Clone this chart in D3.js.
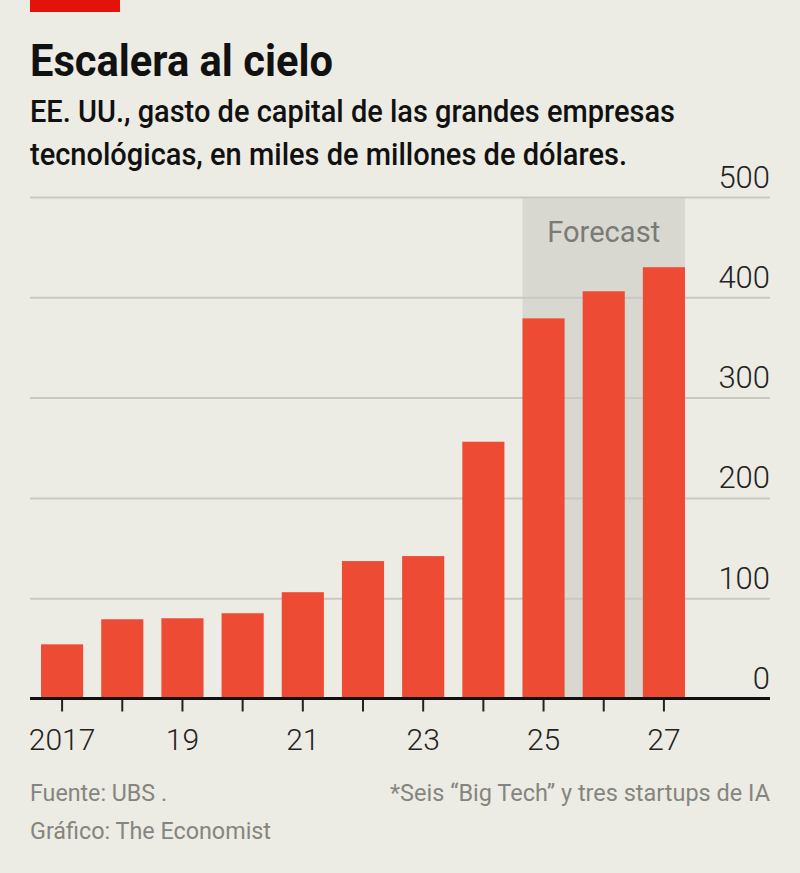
<!DOCTYPE html>
<html>
<head>
  <meta charset="utf-8">
  <title>Escalera al cielo</title>
  <script src="https://d3js.org/d3.v7.min.js"></script>
  <style>
    body { margin: 0; background: #edece4; }
  </style>
</head>
<body>
  <svg id="chart"></svg>

  <script>
    // datos (miles de millones de dolares)
    const years = ["2017", "2018", "2019", "2020", "2021", "2022", "2023", "2024", "2025", "2026", "2027"];
    const capex = [54, 79, 80, 85, 106, 137, 142, 256, 379, 406, 430];
    const forecastYears = ["2025", "2026", "2027"];
    const yTicks = [0, 100, 200, 300, 400, 500];
    const xTickLabels = ["2017", "", "19", "", "21", "", "23", "", "25", "", "27"];

    const width = 800;
    const height = 873;
    const margin = { left: 30, right: 30, top: 197, bottom: 174 };

    const svg = d3.select("#chart")
      .attr("width", width)
      .attr("height", height)
      .style("font-family", "Roboto, 'Noto Sans', sans-serif");

    svg.append("rect")
      .attr("width", width).attr("height", height)
      .attr("fill", "#edece4");

    // barra roja de la cabecera
    svg.append("rect")
      .attr("x", 30).attr("y", 0)
      .attr("width", 90).attr("height", 12)
      .attr("fill", "#e3120b");

    // texto condensado: fuente algo mayor y comprimida a la anchura original
    function condensed(x, yPos, size, weight, len, fill, txt, anchor) {
      return svg.append("text")
        .attr("x", x).attr("y", yPos)
        .attr("font-size", size).attr("font-weight", weight)
        .attr("fill", fill)
        .attr("text-anchor", anchor || "start")
        .attr("textLength", len).attr("lengthAdjust", "spacingAndGlyphs")
        .text(txt);
    }

    condensed(30, 76, 44, 700, 303, "#111", "Escalera al cielo");
    condensed(30, 122, 31, 500, 645, "#111", "EE. UU., gasto de capital de las grandes empresas");
    condensed(30, 165, 31, 500, 597, "#111", "tecnológicas, en miles de millones de dólares.");

    const y = d3.scaleLinear()
      .domain([0, 500])
      .range([height - margin.bottom - 0.5, margin.top]);

    // escala de banda que deja sitio para las etiquetas de la derecha
    const x = d3.scaleBand()
      .domain(years)
      .range([32, 694])
      .paddingInner(0.3)
      .paddingOuter(0.15);

    // zona de prevision
    const fx0 = x(forecastYears[0]);
    const fx1 = x(forecastYears[forecastYears.length - 1]) + x.bandwidth();
    svg.append("rect")
      .attr("x", fx0).attr("y", y(500))
      .attr("width", fx1 - fx0)
      .attr("height", y(0) - y(500))
      .attr("fill", "#d8d8d1");

    condensed((fx0 + fx1) / 2, 242, 29, 400, 113, "#7a7a76", "Forecast", "middle");

    // lineas de la cuadricula y etiquetas del eje y
    const yAxis = svg.append("g")
      .attr("transform", `translate(${width - margin.right},0)`)
      .call(d3.axisLeft(y).tickValues(yTicks).tickSize(width - margin.left - margin.right).tickFormat(d3.format("d")));
    yAxis.select(".domain").remove();
    yAxis.selectAll(".tick line")
      .attr("stroke", "#c9c9c2")
      .attr("stroke-width", 2);
    yAxis.selectAll(".tick text")
      .attr("x", 0).attr("dy", -10)
      .attr("text-anchor", "end")
      .attr("font-family", "Roboto, sans-serif")
      .attr("font-size", 31)
      .attr("font-weight", 300)
      .attr("fill", "#222");

    svg.selectAll(".bar")
      .data(years)
      .enter().append("rect")
      .attr("class", "bar")
      .attr("x", d => x(d))
      .attr("width", x.bandwidth())
      .attr("y", (d, i) => y(capex[i]))
      .attr("height", (d, i) => y(0) - y(capex[i]))
      .attr("fill", "#ee4b35");

    // eje x
    const xAxis = svg.append("g")
      .attr("transform", `translate(0,${y(0)})`)
      .call(d3.axisBottom(x).tickSize(13).tickSizeOuter(0).tickFormat((d, i) => xTickLabels[i]));
    xAxis.select(".domain").remove();
    xAxis.selectAll(".tick line")
      .attr("stroke", "#222")
      .attr("stroke-width", 2);
    xAxis.selectAll(".tick text")
      .attr("y", 30)
      .attr("dy", "0.71em")
      .attr("font-family", "Roboto, sans-serif")
      .attr("font-size", 30)
      .attr("font-weight", 300)
      .attr("fill", "#222");

    svg.append("line")
      .attr("x1", margin.left).attr("x2", width - margin.right)
      .attr("y1", y(0)).attr("y2", y(0))
      .attr("stroke", "#111")
      .attr("stroke-width", 3);

    // pie del grafico
    condensed(30, 801, 24, 400, 137, "#858580", "Fuente: UBS .");
    condensed(width - 30, 801, 24, 400, 380, "#858580", "*Seis “Big Tech” y tres startups de IA", "end");
    condensed(30, 839, 24, 400, 241, "#858580", "Gráfico: The Economist");
  </script>
</body>
</html>
